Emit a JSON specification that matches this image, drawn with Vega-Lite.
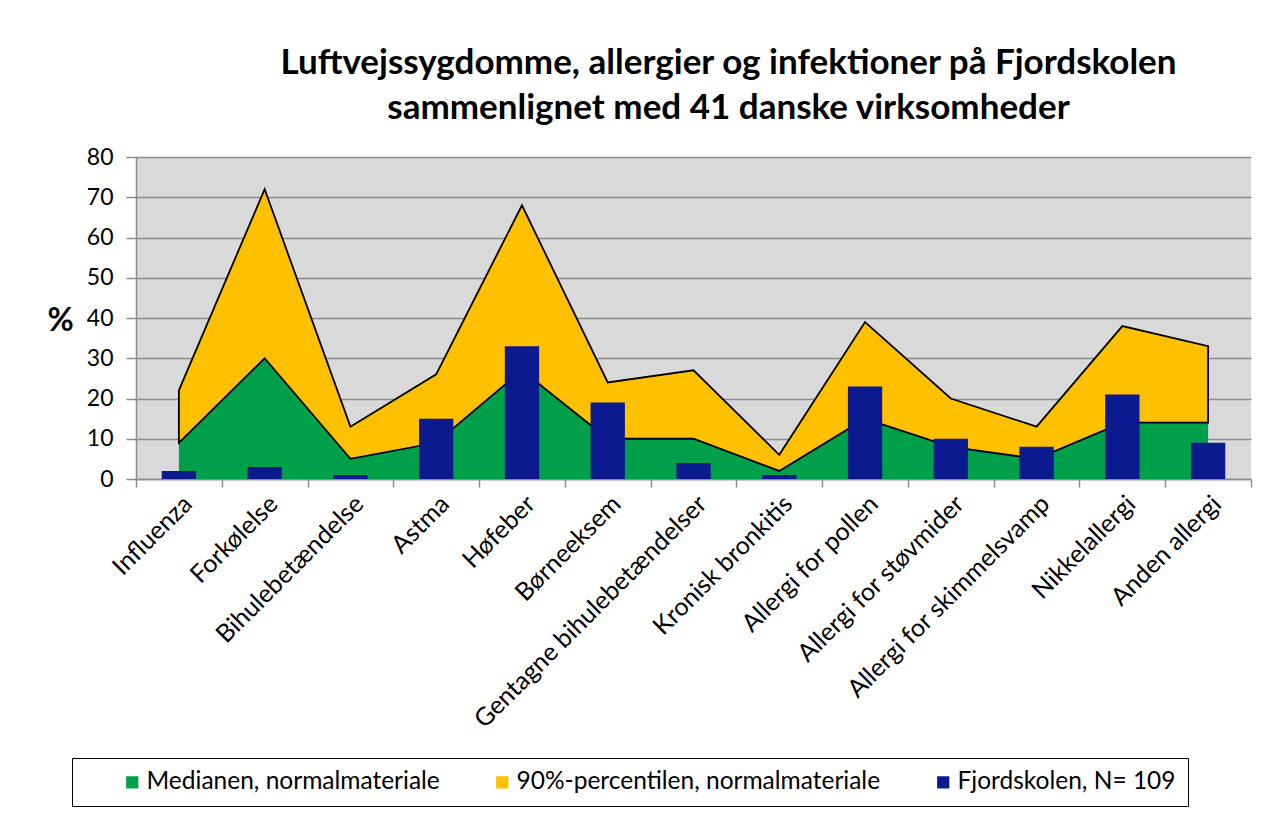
{
  "$schema": "https://vega.github.io/schema/vega-lite/v6.json",
  "width": 1115,
  "height": 322,
  "autosize": {"type": "none"},
  "padding": {"left": 136, "top": 157, "right": 16, "bottom": 337},
  "background": "white",
  "title": {
    "text": ["Luftvejssygdomme, allergier og infektioner på Fjordskolen", "sammenlignet med 41 danske virksomheder"],
    "font": "Lato",
    "fontSize": 35,
    "fontWeight": "bold",
    "color": "black",
    "anchor": "middle",
    "dx": 35,
    "offset": 20,
    "lineHeight": 45
  },
  "data": {
    "values": [
      {"cat": "Influenza", "median": 9, "p90": 22, "fjord": 2},
      {"cat": "Forkølelse", "median": 30, "p90": 72, "fjord": 3},
      {"cat": "Bihulebetændelse", "median": 5, "p90": 13, "fjord": 1},
      {"cat": "Astma", "median": 9, "p90": 26, "fjord": 15},
      {"cat": "Høfeber", "median": 27, "p90": 68, "fjord": 33},
      {"cat": "Børneeksem", "median": 10, "p90": 24, "fjord": 19},
      {"cat": "Gentagne bihulebetændelser", "median": 10, "p90": 27, "fjord": 4},
      {"cat": "Kronisk bronkitis", "median": 2, "p90": 6, "fjord": 1},
      {"cat": "Allergi for pollen", "median": 15, "p90": 39, "fjord": 23},
      {"cat": "Allergi for støvmider", "median": 8, "p90": 20, "fjord": 10},
      {"cat": "Allergi for skimmelsvamp", "median": 5, "p90": 13, "fjord": 8},
      {"cat": "Nikkelallergi", "median": 14, "p90": 38, "fjord": 21},
      {"cat": "Anden allergi", "median": 14, "p90": 33, "fjord": 9}
    ]
  },
  "encoding": {
    "x": {
      "field": "cat",
      "type": "nominal",
      "sort": null,
      "scale": {"type": "band", "paddingInner": 0, "paddingOuter": 0},
      "axis": {
        "title": null,
        "labelAngle": -45,
        "labelFont": "Lato",
        "labelFontSize": 25,
        "labelColor": "black",
        "labelPadding": 4,
        "labelLimit": 500,
        "tickBand": "extent",
        "tickSize": 8,
        "tickColor": "#8c8c8c",
        "tickWidth": 1.5,
        "domainColor": "#8c8c8c",
        "domainWidth": 1.5,
        "grid": false
      }
    }
  },
  "layer": [
    {
      "mark": {"type": "area", "opacity": 1},
      "encoding": {
        "x": {"field": "cat", "type": "nominal", "sort": null, "bandPosition": 0.5},
        "y": {
          "field": "median",
          "type": "quantitative",
          "scale": {"domain": [0, 80]},
          "axis": {
            "title": "%",
            "titleAngle": 0,
            "titleFont": "Lato",
            "titleFontSize": 32,
            "titleFontWeight": "bold",
            "titleColor": "black",
            "titleAlign": "center",
            "titleBaseline": "middle",
            "titleX": -76,
            "titleY": 163,
            "values": [0, 10, 20, 30, 40, 50, 60, 70, 80],
            "labelFont": "Lato",
            "labelFontSize": 23,
            "labelColor": "black",
            "labelPadding": 13,
            "tickSize": 10,
            "tickColor": "#8c8c8c",
            "tickWidth": 1.5,
            "domainColor": "#8c8c8c",
            "domainWidth": 1.5,
            "grid": true,
            "gridColor": "#8c8c8c",
            "gridWidth": 1.5
          }
        },
        "color": {
          "datum": "Medianen, normalmateriale",
          "scale": {
            "domain": ["Medianen, normalmateriale", "90%-percentilen, normalmateriale", "Fjordskolen, N= 109"],
            "range": ["#00A04A", "#FFC000", "#0B1A8F"]
          },
          "legend": {
            "title": "\u00a0",
            "titleOrient": "left",
            "titlePadding": 36,
            "titleFontSize": 20,
            "orient": "none",
            "legendX": -64,
            "legendY": 601,
            "direction": "horizontal",
            "symbolType": "square",
            "symbolSize": 150,
            "symbolStrokeWidth": 1.5,
            "labelFont": "Lato",
            "labelFontSize": 24.5,
            "labelColor": "black",
            "labelLimit": 500,
            "labelOffset": 2,
            "columnPadding": 50,
            "padding": 12,
            "strokeColor": "black",
            "fillColor": "white",
            "encode": {
              "legend": {"update": {"strokeWidth": {"value": 2}}},
              "symbols": {
                "update": {
                  "stroke": [
                    {"test": "datum.value === '90%-percentilen, normalmateriale'", "value": "black"},
                    {"value": "transparent"}
                  ],
                  "opacity": {"value": 1},
                  "fillOpacity": {"value": 1}
                }
              }
            }
          }
        }
      }
    },
    {
      "mark": {"type": "area", "opacity": 1, "stroke": "black", "strokeWidth": 1.8},
      "encoding": {
        "x": {"field": "cat", "type": "nominal", "sort": null, "bandPosition": 0.5},
        "y": {"field": "p90", "type": "quantitative"},
        "y2": {"field": "median"},
        "color": {"datum": "90%-percentilen, normalmateriale"}
      }
    },
    {
      "mark": {"type": "bar", "width": {"band": 0.4}, "opacity": 1},
      "encoding": {
        "y": {"field": "fjord", "type": "quantitative"},
        "color": {"datum": "Fjordskolen, N= 109"}
      }
    }
  ],
  "config": {
    "view": {"fill": "#D9D9D9", "stroke": null}
  }
}
